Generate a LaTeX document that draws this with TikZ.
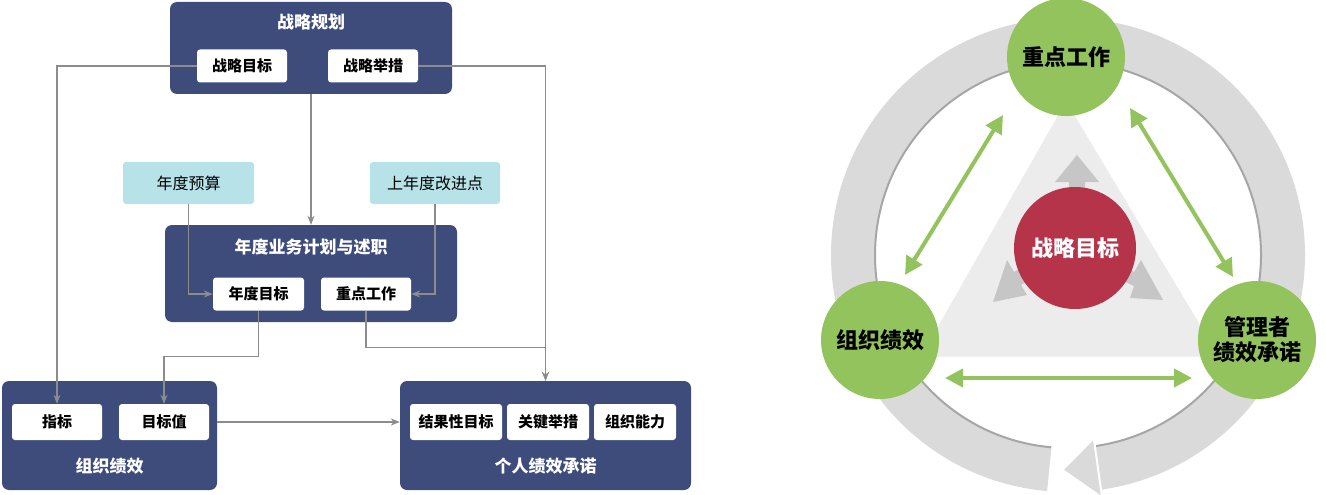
\documentclass[tikz,border=0pt]{standalone}
\usepackage{fontspec}
\setmainfont{Noto Sans CJK SC}
\usetikzlibrary{arrows.meta,calc}
\definecolor{navy}{HTML}{3E4C7C}
\definecolor{paleblue}{HTML}{B7E2E8}
\definecolor{conngray}{HTML}{8C8C8C}
\definecolor{leaf}{HTML}{92C35C}
\definecolor{berry}{HTML}{B5344A}
\definecolor{ringgray}{HTML}{DADADA}
\tikzset{
  darkbox/.style={fill=navy, rounded corners=7pt},
  title/.style={text=white, font=\bfseries\fontsize{17}{17}\selectfont},
  innerbox/.style={fill=white, rounded corners=3pt, minimum height=33pt, font=\bfseries\fontsize{15}{15}\selectfont},
  bluebox/.style={fill=paleblue, rounded corners=3pt, minimum height=42pt, font=\fontsize{16}{16}\selectfont},
  conn/.style={draw=conngray, line width=1.3pt, -{Stealth[length=9pt,width=7pt]}},
  ball/.style={circle, fill=leaf, minimum size=118pt, align=center, font=\bfseries\fontsize{22}{25}\selectfont},
  twoway/.style={draw=leaf, line width=4pt, {Triangle[length=18pt,width=18pt]}-{Triangle[length=18pt,width=18pt]}},
  fatarrow/.style={fill=gray!45}
}
\begin{document}
\begin{tikzpicture}[x=1pt,y=-1pt]
    \useasboundingbox (0,0) rectangle (1326,495);
    % left: planning flow
    \node[darkbox, minimum width=282pt, minimum height=92pt] (plan) at (311,48) {};
    \node[title] (plantitle) at (311,22) {战略规划};
    \node[innerbox, minimum width=90pt] (t1) at (242,66) {战略目标};
    \node[innerbox, minimum width=90pt] (t2) at (373,66) {战略举措};
    \node[bluebox, minimum width=131pt] (bud) at (188.5,183) {年度预算};
    \node[bluebox, minimum width=130pt] (imp) at (435,183) {上年度改进点};
    \node[darkbox, minimum width=292pt, minimum height=97pt] (yr) at (311,273.5) {};
    \node[title] (yrtitle) at (311,247) {年度业务计划与述职};
    \node[innerbox, minimum width=91pt] (y1) at (258.5,294) {年度目标};
    \node[innerbox, minimum width=90pt] (y2) at (366,294) {重点工作};
    \node[darkbox, minimum width=215pt, minimum height=109pt] (org) at (109.5,435.5) {};
    \node[title] (orgtitle) at (109.5,466) {组织绩效};
    \node[innerbox, minimum width=90pt, minimum height=36pt] (z1) at (57,422) {指标};
    \node[innerbox, minimum width=90pt, minimum height=36pt] (z2) at (164,422) {目标值};
    \node[darkbox, minimum width=291pt, minimum height=109pt] (gp) at (545.5,435.5) {};
    \node[title] (gptitle) at (545.5,466) {个人绩效承诺};
    \node[innerbox, minimum width=92pt, minimum height=36pt] (g1) at (456,422) {结果性目标};
    \node[innerbox, minimum width=82pt, minimum height=36pt] (g2) at (548,422) {关键举措};
    \node[innerbox, minimum width=82pt, minimum height=36pt] (g3) at (635,422) {组织能力};
    \draw[conn] (t1.west) -| (z1.north);
    \draw[conn] (t2.east) -| (gp.north);
    \draw[conn] (plan.south) -- (yr.north);
    \draw[conn] (bud.south) |- (y1.west);
    \draw[conn] (imp.south) |- (y2.east);
    \draw[conn] (y1.south) -- ++(0,46) -| (z2.north);
    \draw[conn] (y2.south) -- ++(0,37) -| (gp.north);
    \draw[conn] (org.east |- z2) -- (gp.west |- z2);
    % right: cycle
    \coordinate (hub) at (1068,255);
    \draw[ringgray, line width=44pt] (hub) ++(95:215) arc (95:442:215);
    \draw[gray!70, line width=2pt] (hub) ++(95:193) arc (95:442:193);
    \filldraw[fill=ringgray, draw=white, line width=2pt]
        ($(hub)+(82:185)$) -- ($(hub)+(82:245)$) -- ($(hub)+(91.5:215)$) -- cycle;
    \fill[gray!15] (1066,100) -- (920,357) -- (1220,357) -- cycle;
    \draw[white, line width=1pt] (1066,100) -- (920,357) -- (1220,357) -- cycle;
    \fill[fatarrow] (1069,200) -- (1069,182) -- (1055,182) -- (1077,155) -- (1099,182) -- (1085,182) -- (1085,200) -- cycle;
    \fill[fatarrow] (1030,262) -- (1014,272) -- (1007,260) -- (993,302) -- (1027,295) -- (1021,285) -- (1038,275) -- cycle;
    \fill[fatarrow] (1118,262) -- (1134,272) -- (1141,260) -- (1163,300) -- (1130,298) -- (1134,286) -- (1112,276) -- cycle;
    \node[circle, fill=berry, minimum size=122pt, text=white, font=\bfseries\fontsize{22}{22}\selectfont] (goal) at (1075,248) {战略目标};
    \node[ball] (work) at (1066,57) {重点工作};
    \node[ball] (orgp) at (880,340) {组织绩效};
    \node[ball] (mgr) at (1257,340) {管理者\\绩效承诺};
    \draw[twoway] (905,275) -- (1003,115);
    \draw[twoway] (1130,108) -- (1233,277);
    \draw[twoway] (945,378) -- (1192,378);
\end{tikzpicture}
\end{document}
